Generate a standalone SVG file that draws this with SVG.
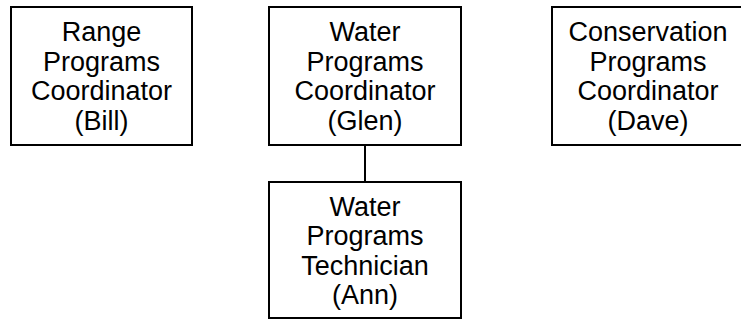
<svg xmlns="http://www.w3.org/2000/svg" width="741" height="320" viewBox="0 0 741 320">
<style>
.box{fill:#fff;stroke:#000;stroke-width:2}
.t{font-family:"Liberation Sans",Arial,sans-serif;font-size:27px;fill:#000;text-anchor:middle}
.c{stroke:#000;stroke-width:2;fill:none}
</style>
<rect width="741" height="320" fill="#fff"/>
<g id="connectors"><line class="c" x1="365" y1="145" x2="365" y2="182"/></g>
<g id="range"><rect class="box" x="11" y="7" width="181" height="138"/>
<text class="t" x="101.5" y="41">Range</text><text class="t" x="101.5" y="70.5">Programs</text><text class="t" x="101.5" y="100">Coordinator</text><text class="t" x="101.5" y="129.5">(Bill)</text></g>
<g id="water"><rect class="box" x="269" y="7" width="192" height="138"/>
<text class="t" x="365" y="41">Water</text><text class="t" x="365" y="70.5">Programs</text><text class="t" x="365" y="100">Coordinator</text><text class="t" x="365" y="129.5">(Glen)</text></g>
<g id="conservation"><rect class="box" x="552" y="7" width="192" height="138"/>
<text class="t" x="648" y="41">Conservation</text><text class="t" x="648" y="70.5">Programs</text><text class="t" x="648" y="100">Coordinator</text><text class="t" x="648" y="129.5">(Dave)</text></g>
<g id="technician"><rect class="box" x="269" y="182" width="192" height="136"/>
<text class="t" x="365" y="215.5">Water</text><text class="t" x="365" y="245">Programs</text><text class="t" x="365" y="274.5">Technician</text><text class="t" x="365" y="304">(Ann)</text></g>
</svg>
